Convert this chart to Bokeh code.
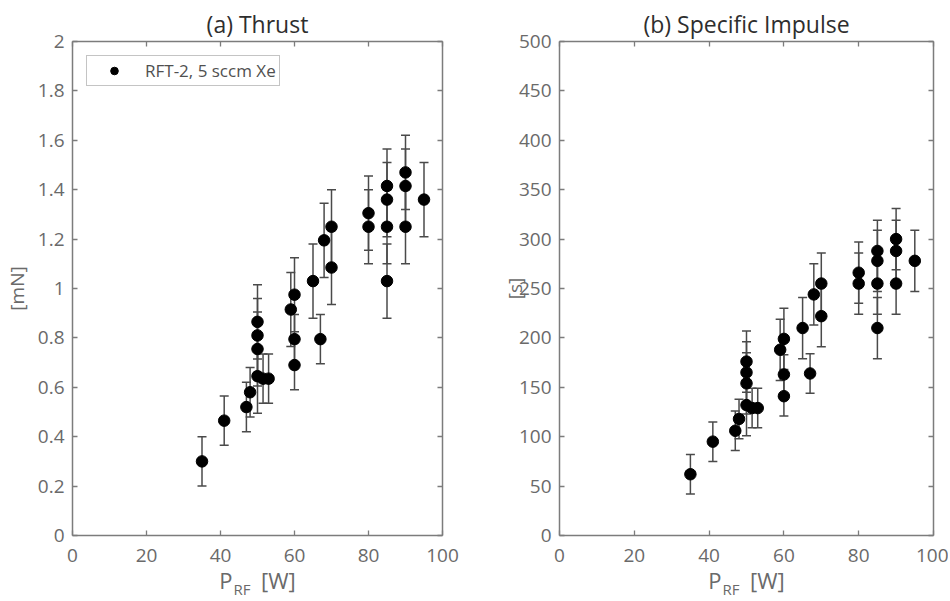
from bokeh.plotting import figure
from bokeh.models import (ColumnDataSource, Whisker, TeeHead, LinearAxis, FixedTicker,
                          Range1d, Legend, LegendItem, CustomLabelingPolicy)
from bokeh.layouts import row
from bokeh.embed import file_html
from bokeh.resources import INLINE

# ---------------- data ----------------
power_w = [35, 41, 47, 48, 50, 50, 50, 50, 51.5, 53, 59, 60, 60, 60, 65, 67, 68, 70, 70,
           80, 80, 85, 85, 85, 85, 90, 90, 90, 95]
thrust_mn = [0.30, 0.465, 0.52, 0.58, 0.645, 0.755, 0.81, 0.865, 0.635, 0.635, 0.915, 0.69,
             0.795, 0.975, 1.03, 0.795, 1.195, 1.25, 1.085, 1.25, 1.305, 1.03, 1.25, 1.36,
             1.415, 1.25, 1.415, 1.47, 1.36]
thrust_err = [0.10, 0.10, 0.10, 0.10, 0.15, 0.15, 0.15, 0.15, 0.10, 0.10, 0.15, 0.10, 0.10,
              0.15, 0.15, 0.10, 0.15, 0.15, 0.15, 0.15, 0.15, 0.15, 0.15, 0.15, 0.15, 0.15,
              0.15, 0.15, 0.15]
isp_s = [62, 95, 106, 118, 132, 154, 165, 176, 129, 129, 188, 141, 163, 199, 210, 164, 244,
         255, 222, 255, 266, 210, 255, 278, 288, 255, 288, 300, 278]
isp_err = [20, 20, 20, 20, 31, 31, 31, 31, 20, 20, 31, 20, 20, 31, 31, 20, 31, 31, 31, 31,
           31, 31, 31, 31, 31, 31, 31, 31, 31]

x_ticks = [0, 20, 40, 60, 80, 100]
x_tick_labels = ["0", "20", "40", "60", "80", "100"]
thrust_ticks = [0, 0.2, 0.4, 0.6, 0.8, 1.0, 1.2, 1.4, 1.6, 1.8, 2.0]
thrust_tick_labels = ["0", "0.2", "0.4", "0.6", "0.8", "1", "1.2", "1.4", "1.6", "1.8", "2"]
isp_ticks = [0, 50, 100, 150, 200, 250, 300, 350, 400, 450, 500]
isp_tick_labels = ["0", "50", "100", "150", "200", "250", "300", "350", "400", "450", "500"]

legend_label = "RFT-2, 5 sccm Xe"
NBSP = "\u00a0"
xlabel_main = "P" + NBSP * 5 + "[W]"
xlabel_sub = "RF" + NBSP * 8

FONT = "Open Sans"
AX_COLOR = "#7c7c7c"
TXT_COLOR = "#6a6a6a"
TITLE_COLOR = "#2e2e2e"


def style_axis(ax, ticks, labels, show_labels):
    ax.ticker = FixedTicker(ticks=ticks)
    ax.axis_line_color = AX_COLOR
    ax.axis_line_width = 1.5
    ax.major_tick_line_color = AX_COLOR
    ax.major_tick_line_width = 1.3
    ax.major_tick_in = 5
    ax.major_tick_out = 0
    ax.minor_tick_line_color = None
    if show_labels:
        ax.major_label_overrides = {t: l for t, l in zip(ticks, labels)}
        ax.major_label_text_font = FONT
        ax.major_label_text_font_size = "19px"
        ax.major_label_text_color = TXT_COLOR
        ax.major_label_standoff = 8
    else:
        ax.major_label_policy = CustomLabelingPolicy(code="if (false) { yield 0 }")
        ax.major_label_text_font_size = "0px"
        ax.major_label_standoff = 0
        ax.axis_label = None


def make_panel(title, ys, errs, yticks, ylabels, ymax, ylab, lab_standoff, width, bl, br,
               with_legend):
    p = figure(width=width, height=601, output_backend="svg", toolbar_location=None,
               x_range=Range1d(0, 100), y_range=Range1d(0, ymax),
               min_border_left=bl, min_border_right=br, min_border_top=41,
               min_border_bottom=66)
    p.outline_line_color = None
    p.xgrid.visible = False
    p.ygrid.visible = False
    p.background_fill_color = "white"
    p.border_fill_color = "white"

    xa = p.xaxis[0]
    style_axis(xa, x_ticks, x_tick_labels, True)
    xa.major_label_standoff = 13
    xa.axis_label = xlabel_main
    xa.axis_label_text_font = FONT
    xa.axis_label_text_font_size = "22px"
    xa.axis_label_text_font_style = "normal"
    xa.axis_label_text_color = TXT_COLOR
    xa.axis_label_standoff = 0

    # second (label-only) axis carrying the subscript "RF"
    xs = LinearAxis()
    style_axis(xs, x_ticks, x_tick_labels, False)
    xs.axis_line_color = None
    xs.major_tick_line_color = None
    xs.axis_label = xlabel_sub
    xs.axis_label_text_font = FONT
    xs.axis_label_text_font_size = "15px"
    xs.axis_label_text_font_style = "normal"
    xs.axis_label_text_color = TXT_COLOR
    xs.axis_label_standoff = -19
    p.add_layout(xs, "below")

    style_axis(p.yaxis[0], yticks, ylabels, True)
    p.yaxis[0].axis_label = ylab
    p.yaxis[0].axis_label_text_font = FONT
    p.yaxis[0].axis_label_text_font_size = "19px"
    p.yaxis[0].axis_label_text_font_style = "normal"
    p.yaxis[0].axis_label_text_color = TXT_COLOR
    p.yaxis[0].axis_label_standoff = lab_standoff

    top = LinearAxis()
    style_axis(top, x_ticks, x_tick_labels, False)
    p.add_layout(top, "above")
    right = LinearAxis()
    style_axis(right, yticks, ylabels, False)
    p.add_layout(right, "right")

    p.title.text = title
    p.title.align = "center"
    p.title.text_font = FONT
    p.title.text_font_size = "23px"
    p.title.text_font_style = "normal"
    p.title.text_color = TITLE_COLOR
    p.title.standoff = 4

    src = ColumnDataSource(dict(x=power_w, y=ys,
                                lo=[a - b for a, b in zip(ys, errs)],
                                hi=[a + b for a, b in zip(ys, errs)]))
    wh = Whisker(source=src, base="x", lower="lo", upper="hi", dimension="height",
                 line_color="#4a4a4a", line_width=1.5,
                 lower_head=TeeHead(size=9, line_color="#4a4a4a", line_width=1.5),
                 upper_head=TeeHead(size=9, line_color="#4a4a4a", line_width=1.5))
    p.add_layout(wh)
    pts = p.scatter("x", "y", source=src, size=11.5, color="black")

    if with_legend:
        leg = Legend(items=[LegendItem(label=legend_label, renderers=[pts])],
                     location="top_left", margin=14, padding=3,
                     glyph_width=48, glyph_height=19, label_height=18, label_standoff=7,
                     label_text_font=FONT, label_text_font_size="17px",
                     label_text_color="#505050", border_line_color="#8a8a8a",
                     border_line_width=1.3, background_fill_alpha=1.0)
        p.add_layout(leg, "center")
    return p


p1 = make_panel("(a) Thrust", thrust_mn, thrust_err, thrust_ticks, thrust_tick_labels, 2.0,
                "[mN]", 5, 470, 69, 28, True)
p2 = make_panel("(b) Specific Impulse", isp_s, isp_err, isp_ticks, isp_tick_labels, 500,
                "[s]", -12, 478, 89, 15, False)

layout = row(p1, p2)
open("out.html", "w").write(file_html(layout, INLINE))
